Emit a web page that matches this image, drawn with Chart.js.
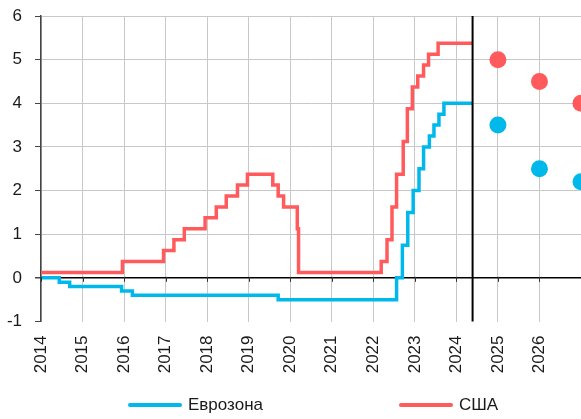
<!DOCTYPE html>
<html>
<head>
<meta charset="utf-8">
<script src="https://cdn.jsdelivr.net/npm/chart.js@4.4.1/dist/chart.umd.min.js"></script>
<style>
  html, body { margin: 0; padding: 0; background: #fff; }
  #wrap { position: relative; width: 581px; height: 419px; }
  #c { position: absolute; left: 0; top: 0; }
  #legend { position: absolute; left: 128px; top: 395px; display: flex; align-items: center;
            font-family: "Liberation Sans", Arial, sans-serif; font-size: 17px; color: #1a1a1a; }
  .item { display: flex; align-items: center; }
  .swatch { width: 54px; height: 4px; border-radius: 2px; margin-right: 6px; }
</style>
</head>
<body>
<div id="wrap">
  <canvas id="c" width="581" height="419"></canvas>
  <div id="legend"></div>
</div>
<script>
// ---- data ----
const seriesNames = ["Еврозона", "США"];
const seriesColors = ["#00B9EA", "#FF5A5C"];

// Eurozone (ECB deposit rate), decimal-year dates of changes
const euDates = [2014.0, 2014.44, 2014.69, 2015.94, 2016.2, 2019.71, 2022.56, 2022.70, 2022.83, 2022.96, 2023.10, 2023.21, 2023.35, 2023.46, 2023.58, 2023.70, 2024.39];
const euRates = [0, -0.1, -0.2, -0.3, -0.4, -0.5, 0, 0.75, 1.5, 2.0, 2.5, 3.0, 3.25, 3.5, 3.75, 4.0, 4.0];

// USA (Fed funds midpoint)
const usDates = [2014.0, 2015.96, 2016.95, 2017.2, 2017.45, 2017.95, 2018.22, 2018.46, 2018.73, 2018.97, 2019.58, 2019.71, 2019.84, 2020.17, 2020.2, 2022.19, 2022.33, 2022.45, 2022.56, 2022.72, 2022.82, 2022.94, 2023.07, 2023.21, 2023.33, 2023.56, 2024.39];
const usRates = [0.125, 0.375, 0.625, 0.875, 1.125, 1.375, 1.625, 1.875, 2.125, 2.375, 2.125, 1.875, 1.625, 1.125, 0.125, 0.375, 0.875, 1.625, 2.375, 3.125, 3.875, 4.375, 4.625, 4.875, 5.125, 5.375, 5.375];

// Forecasts
const forecastYears = [2025, 2026, 2027];
const euForecast = [3.5, 2.5, 2.2];
const usForecast = [5.0, 4.5, 4.0];

const forecastStart = 2024.39;
const xMin = 2014, xMax = 2027;
const yMin = -1, yMax = 6;

const toXY = (xs, ys) => xs.map((x, i) => ({ x: x, y: ys[i] }));

const FONT = { family: '"Liberation Sans", Arial, sans-serif', size: 17 };

const extras = {
  id: 'extras',
  afterDatasetsDraw(chart) {
    const { ctx, chartArea, scales: { x, y } } = chart;
    const y0 = y.getPixelForValue(0);
    ctx.save();
    // small tick marks on the zero line
    ctx.strokeStyle = '#333';
    ctx.lineWidth = 1;
    x.ticks.forEach(t => {
      const px = Math.round(x.getPixelForValue(t.value)) + 0.5;
      ctx.beginPath();
      ctx.moveTo(px, y0 - 1);
      ctx.lineTo(px, y0 + 4);
      ctx.stroke();
    });
    // forecast divider
    const fx = x.getPixelForValue(forecastStart);
    ctx.strokeStyle = '#000';
    ctx.lineWidth = 2;
    ctx.beginPath();
    ctx.moveTo(fx, chartArea.top);
    ctx.lineTo(fx, chartArea.bottom);
    ctx.stroke();
    ctx.restore();
  }
};

const chart = new Chart(document.getElementById('c'), {
  type: 'line',
  data: {
    datasets: [
      { label: seriesNames[1], data: toXY(usDates, usRates), borderColor: seriesColors[1], borderWidth: 3.5,
        stepped: 'before', pointRadius: 0, fill: false, order: 2 },
      { label: seriesNames[0], data: toXY(euDates, euRates), borderColor: seriesColors[0], borderWidth: 3.5,
        stepped: 'before', pointRadius: 0, fill: false, order: 1 },
      { label: seriesNames[1] + ' прогноз', data: toXY(forecastYears, usForecast), showLine: false,
        pointRadius: 8.5, pointBackgroundColor: seriesColors[1], pointBorderWidth: 0, borderColor: seriesColors[1] },
      { label: seriesNames[0] + ' прогноз', data: toXY(forecastYears, euForecast), showLine: false,
        pointRadius: 8.5, pointBackgroundColor: seriesColors[0], pointBorderWidth: 0, borderColor: seriesColors[0] }
    ]
  },
  options: {
    responsive: false,
    animation: false,
    devicePixelRatio: 1,
    layout: { autoPadding: false, padding: { top: 16, right: 0, bottom: 0, left: 0 } },
    plugins: { legend: { display: false }, tooltip: { enabled: false } },
    scales: {
      x: {
        type: 'linear', min: xMin, max: xMax,
        afterFit: s => { s.height = 97.5; s.paddingRight = 0; s.paddingLeft = 0; },
        ticks: {
          stepSize: 1, autoSkip: false, maxRotation: 90, minRotation: 90, padding: 14,
          color: '#1a1a1a', font: FONT,
          callback: v => (v < xMax ? String(v) : '')
        },
        grid: { color: '#c8c8c8', lineWidth: 1, drawTicks: false },
        border: { display: false }
      },
      y: {
        min: yMin, max: yMax,
        afterFit: s => { s.width = 41; s.paddingTop = 0; s.paddingBottom = 0; },
        ticks: { stepSize: 1, padding: 13, color: '#1a1a1a', font: FONT },
        grid: {
          color: c => (c.tick.value === 0 ? '#000' : (c.tick.value === yMin ? 'rgba(0,0,0,0)' : '#c8c8c8')),
          lineWidth: c => (c.tick.value === 0 ? 1.5 : 1),
          tickColor: '#444', tickLength: 6
        },
        border: { display: true, color: '#444', width: 1.5 }
      }
    }
  },
  plugins: [extras]
});

// HTML legend built from the series
const legend = document.getElementById('legend');
[0, 1].forEach(i => {
  const item = document.createElement('div');
  item.className = 'item';
  if (i === 1) item.style.marginLeft = '136px';
  const sw = document.createElement('span');
  sw.className = 'swatch';
  sw.style.background = seriesColors[i];
  const tx = document.createElement('span');
  tx.textContent = seriesNames[i];
  item.appendChild(sw); item.appendChild(tx);
  legend.appendChild(item);
});
</script>
</body>
</html>
